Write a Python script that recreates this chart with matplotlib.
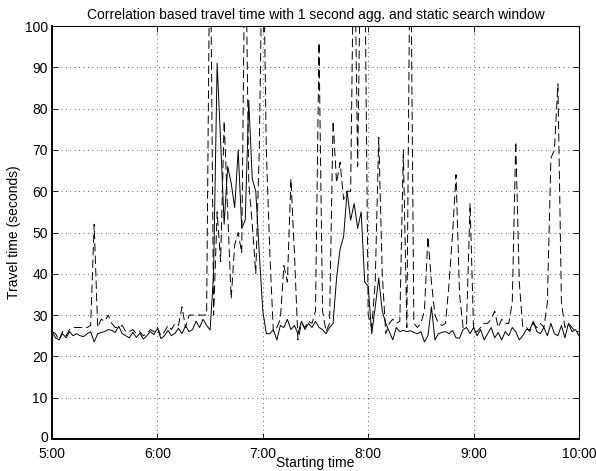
import numpy as np
import matplotlib
matplotlib.use("Agg")
import matplotlib.pyplot as plt
import matplotlib.transforms as mtransforms

plt.rcParams['font.family'] = ['Liberation Sans', 'DejaVu Sans']
plt.rcParams['lines.scale_dashes'] = False

title = "Correlation based travel time with 1 second agg. and static search window"
xlabel = "Starting time"
ylabel = "Travel time (seconds)"
x_tick_labels = ["5:00", "6:00", "7:00", "8:00", "9:00", "10:00"]
x_tick_hours = [5, 6, 7, 8, 9, 10]
y_ticks = [0, 10, 20, 30, 40, 50, 60, 70, 80, 90, 100]

start_hour = 5.0
step_minutes = 2.0

solid = [
    26, 24.5, 24, 25.5, 24.5, 26, 25, 25.5, 25, 24.8,
    25.5, 26, 23.5, 25.5, 25.8, 26, 26.5, 26.3, 25.8, 27.3,
    25.5, 25, 24.5, 25.8, 24.6, 25.6, 24.2, 25, 26, 25.3,
    26.8, 24.3, 25, 26.3, 25, 25.6, 26.8, 25.5, 27.4, 26,
    26.5, 28.5, 27, 29, 27.5, 26.4, 40, 91, 72, 52,
    66, 62, 56, 70, 51, 53, 82, 63, 60, 45,
    31, 25.5, 25.5, 26.5, 24, 27.5, 27, 29, 26.5, 27.5,
    25.5, 28.5, 26.5, 28, 27, 28.5, 27, 26.5, 25.5, 27,
    28, 39, 46, 49, 60, 53, 57, 51, 55, 38,
    37, 25.5, 32, 39, 31, 28, 26, 24, 27, 26,
    26.3, 26, 26.2, 25.8, 25.5, 26, 23.5, 25, 32, 24,
    25.5, 25.8, 26, 25.5, 26.3, 24.5, 24.4, 26.5, 27, 25.5,
    27, 25, 26.5, 24, 25.5, 27, 24.5, 25.8, 24, 26,
    25, 27, 26, 24, 25, 26.5, 26.5, 28.5, 26, 25.5,
    27, 25, 28, 25.5, 25, 27.5, 24.5, 28, 26, 26.5,
    25,
]

dashed = [
    26, 25.5, 24, 26, 25, 26.5, 27, 27, 27, 27,
    27, 27.5, 52, 27, 29, 28.5, 30, 28, 27, 27,
    27.5, 26, 26, 26.5, 25.5, 26, 25, 25.5, 26.5, 26,
    27, 25, 26, 27.5, 26.5, 28, 27.5, 32, 27, 30,
    30, 30, 30, 30, 30, 130, 30, 55, 43, 77,
    55, 34, 47, 50, 45, 130, 62, 52, 40, 70,
    130, 70, 45, 26, 27, 29, 42, 38, 63, 45,
    24, 28, 27, 28.5, 28, 31, 96, 31, 26, 28,
    77, 62, 67, 58, 60, 60, 130, 66, 130, 120,
    30, 27, 38, 73, 40, 25.5, 28, 29, 28, 28.5,
    70, 27, 130, 28, 27, 28, 31, 49, 38, 30,
    28, 27.5, 28, 37.5, 49.5, 64, 35, 27, 28, 57,
    26, 26, 27, 28, 28, 29, 31, 27, 29, 28,
    28, 33, 72, 38, 27, 27, 26, 28, 27, 28,
    27, 33, 68, 70, 86, 33, 27, 28, 27, 26,
    26,
]

t = start_hour + np.arange(len(solid)) * step_minutes / 60.0

fig = plt.figure(figsize=(5.96, 4.71), dpi=100)
ax = fig.add_axes([52/596, 1-439/471, (579-52)/596, (439-26)/471])

ax.plot(t, dashed, color='black', lw=0.7, linestyle=(0, (6, 3)))
ax.plot(t, solid, color='black', lw=0.7, linestyle='-')

ax.set_xlim(5, 10)
ax.set_ylim(0, 100)
ax.set_xticks(x_tick_hours)
ax.set_xticklabels(x_tick_labels)
ax.set_yticks(y_ticks)
ax.grid(True, color='black', linestyle=(0, (0.6, 2.6)), linewidth=0.5)
ax.tick_params(direction='in', length=4, width=0.6, top=True, right=True,
               labelsize=10)
ax.tick_params(axis='x', pad=5.5)
ax.tick_params(axis='y', pad=3)
for side in ['bottom', 'left']:
    ax.spines[side].set_linewidth(1.4)
for side in ['top', 'right']:
    ax.spines[side].set_linewidth(0.8)

ax.set_title(title, fontsize=10, pad=5)
ax.set_xlabel(xlabel, fontsize=10, labelpad=-3)
ax.set_ylabel(ylabel, fontsize=10, labelpad=3)

# nudge the "0" y tick label up slightly so it does not collide with "5:00"
fig.canvas.draw()
zero_label = ax.get_yticklabels()[0]
zero_label.set_transform(zero_label.get_transform() +
                         mtransforms.ScaledTranslation(0, 3/100, fig.dpi_scale_trans))

fig.savefig("out.png", dpi=100)
